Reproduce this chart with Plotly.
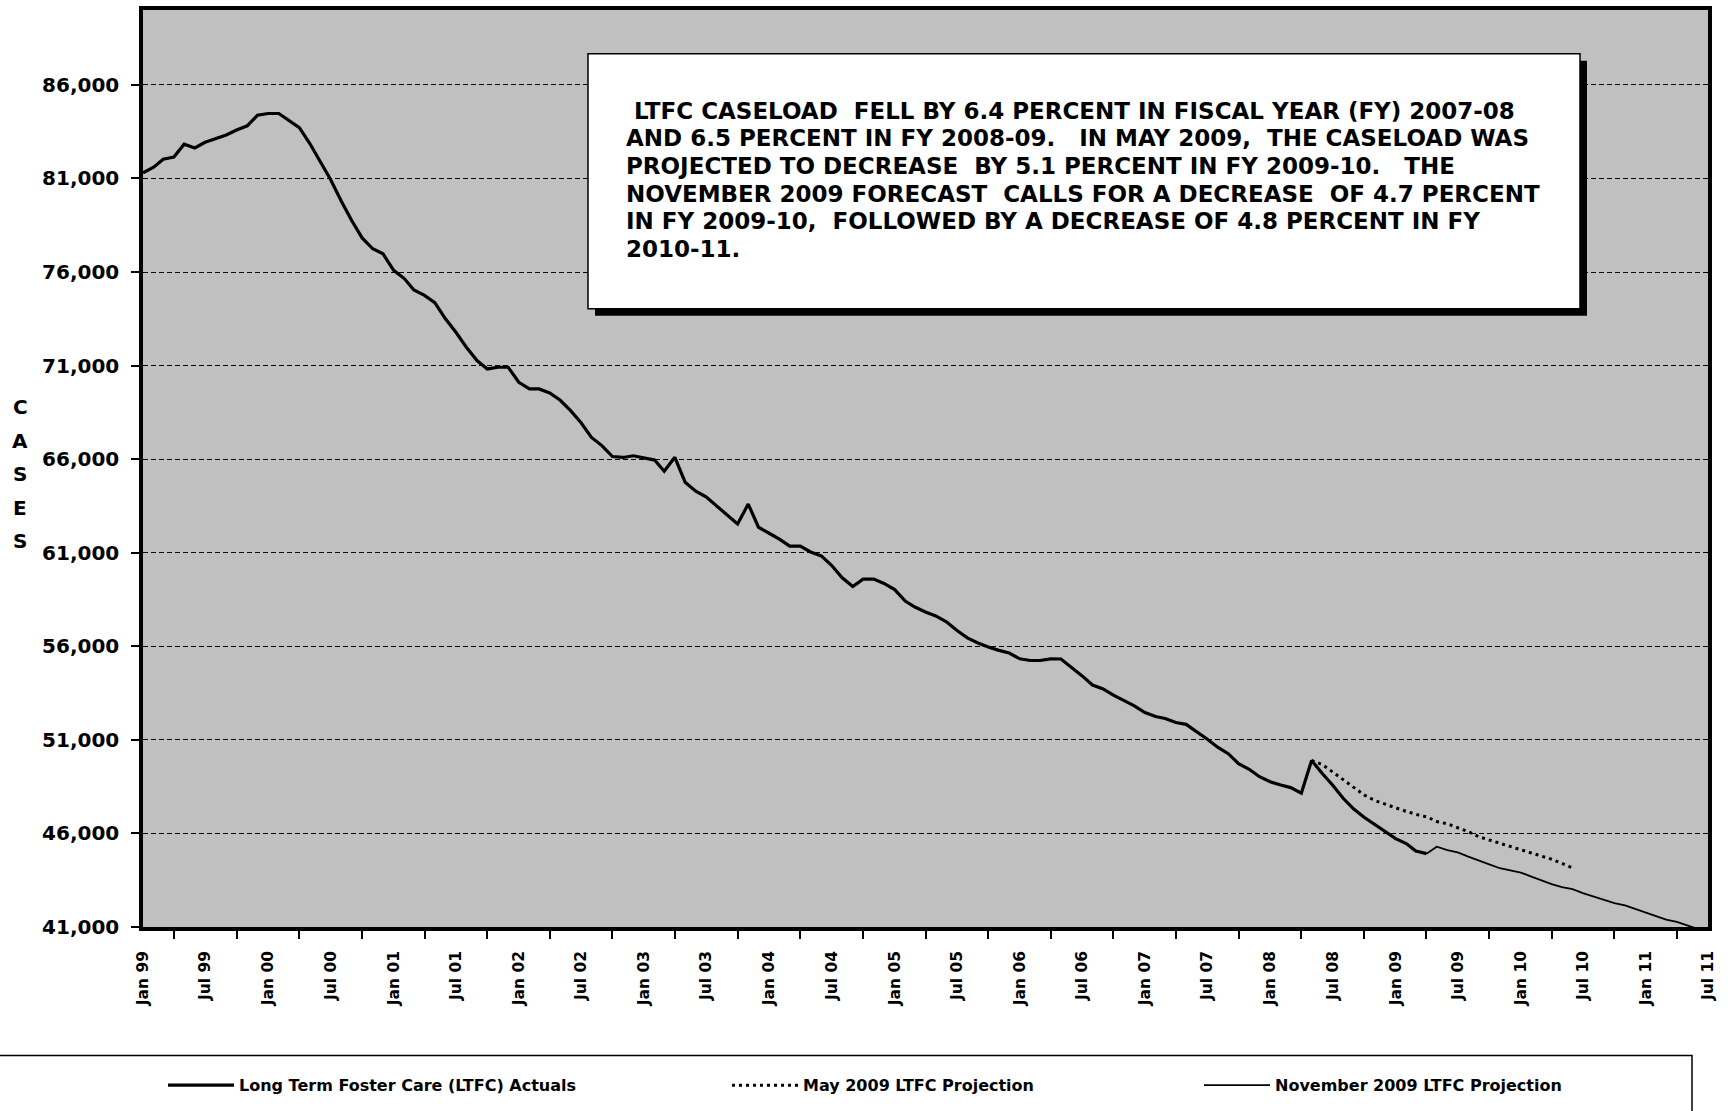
import pandas as pd
import plotly.graph_objects as go

FONT = "DejaVu Sans, Liberation Sans, Arial, sans-serif"

# monthly caseload, first point Jan 1999
START_MONTH = "1999-01"
actuals = [
    81300, 81600, 82030, 82140, 82830, 82630, 82930, 83110, 83320, 83590, 83810, 84380,
    84470, 84470, 84110, 83710, 82880, 81860, 80940, 79790, 78740, 77820, 77240, 76970,
    76090, 75650, 75040, 74750, 74360, 73500, 72790, 71980, 71270, 70820, 70910, 70910,
    70110, 69750, 69750, 69540, 69160, 68590, 67960, 67160, 66710, 66140, 66090, 66180,
    66070, 65950, 65350, 66100, 64770, 64290, 63990, 63500, 63060, 62530, 63600, 62360,
    62040, 61710, 61350, 61350, 61040, 60830, 60330, 59660, 59190, 59590, 59590, 59360,
    59030, 58420, 58100, 57830, 57620, 57310, 56860, 56450, 56180, 55960, 55780, 55640,
    55330, 55240, 55240, 55330, 55320, 54870, 54430, 53930, 53720, 53390, 53120, 52820,
    52460, 52250, 52140, 51930, 51830, 51440, 51050, 50610, 50260, 49730, 49430, 49030,
    48760, 48590, 48450, 48150, 49900, 49200, 48590, 47880, 47300, 46860, 46480, 46090,
    45720, 45460, 45060, 44920,
]
may_2009_projection = [
    49900, 49680, 49290, 48890, 48450, 48060, 47760, 47550, 47370, 47180, 47020, 46890,
    46640, 46510, 46320, 46090, 45820, 45650, 45470, 45310, 45140, 44970, 44790, 44620,
    44400, 44150,
]
november_2009_projection = [
    44920, 45290, 45110, 44990, 44760, 44530, 44350, 44140, 44010, 43910, 43690, 43480,
    43290, 43130, 43020, 42810, 42630, 42460, 42280, 42150, 41960, 41740, 41570, 41390,
    41270, 41090, 40900,
]
MAY_START = 112   # month offset of first May 2009 projection point
NOV_START = 123   # month offset of first November 2009 projection point

tick_labels = [
    "Jan 99", "Jul 99", "Jan 00", "Jul 00", "Jan 01", "Jul 01", "Jan 02", "Jul 02",
    "Jan 03", "Jul 03", "Jan 04", "Jul 04", "Jan 05", "Jul 05", "Jan 06", "Jul 06",
    "Jan 07", "Jul 07", "Jan 08", "Jul 08", "Jan 09", "Jul 09", "Jan 10", "Jul 10",
    "Jan 11", "Jul 11",
]
y_ticks = [41000, 46000, 51000, 56000, 61000, 66000, 71000, 76000, 81000, 86000]

note_lines = [
    "\u00a0LTFC CASELOAD\u00a0 FELL BY 6.4 PERCENT IN FISCAL YEAR (FY) 2007-08",
    "AND 6.5 PERCENT IN FY 2008-09.\u00a0\u00a0 IN MAY 2009,\u00a0 THE CASELOAD WAS",
    "PROJECTED TO DECREASE\u00a0 BY 5.1 PERCENT IN FY 2009-10.\u00a0\u00a0 THE",
    "NOVEMBER 2009 FORECAST\u00a0 CALLS FOR A DECREASE\u00a0 OF 4.7 PERCENT",
    "IN FY 2009-10,\u00a0 FOLLOWED BY A DECREASE OF 4.8 PERCENT IN FY",
    "2010-11.",
]

months = pd.period_range(START_MONTH, periods=151, freq="M").to_timestamp()
tick_months = months[::6]
minor_months = months[3::6]

W, H = 1728, 1111
L, R, T, B = 143, 20, 6, 184
PW, PH = W - L - R, H - T - B


def px(x):
    return (x - L) / PW


def py(y):
    return (H - B - y) / PH


fig = go.Figure()
fig.add_trace(go.Scatter(
    x=months[:len(actuals)], y=actuals, mode="lines",
    line=dict(color="black", width=3.2),
    name="Long Term Foster Care (LTFC) Actuals", legend="legend",
))
fig.add_trace(go.Scatter(
    x=months[MAY_START:MAY_START + len(may_2009_projection)], y=may_2009_projection,
    mode="lines", line=dict(color="black", width=3, dash="3px,4px"),
    name="May 2009 LTFC Projection", legend="legend2",
))
fig.add_trace(go.Scatter(
    x=months[NOV_START:NOV_START + len(november_2009_projection)], y=november_2009_projection,
    mode="lines", line=dict(color="black", width=1.8),
    name="November 2009 LTFC Projection", legend="legend3",
))

# note box with drop shadow
box = (588, 50, 1580, 306)
fig.add_shape(type="rect", xref="paper", yref="paper",
              x0=px(box[0] + 7), x1=px(box[2] + 7), y0=py(box[3] + 7), y1=py(box[1] + 7),
              fillcolor="black", line=dict(width=0))
fig.add_shape(type="rect", xref="paper", yref="paper",
              x0=px(box[0]), x1=px(box[2]), y0=py(box[3]), y1=py(box[1]),
              fillcolor="white", line=dict(color="black", width=1.5))
for i, line in enumerate(note_lines):
    fig.add_annotation(
        xref="paper", yref="paper", x=px(624), y=py(107 + 27.8 * i),
        xanchor="left", yanchor="middle", text=line, showarrow=False, align="left",
        font=dict(family=FONT, size=23, color="black", weight="bold"),
    )

# legend frame
fig.add_shape(type="rect", xref="paper", yref="paper",
              x0=px(-5), x1=px(1692), y0=py(1116), y1=py(1056),
              fillcolor="rgba(0,0,0,0)", line=dict(color="black", width=1.5))

# stacked axis title
for i, ch in enumerate("CASES"):
    fig.add_annotation(
        xref="paper", yref="paper", x=px(20), y=py(405 + 33.7 * i),
        text=ch, showarrow=False, xanchor="center", yanchor="middle",
        font=dict(family=FONT, size=20, color="black", weight="bold"),
    )

legend_style = dict(
    orientation="h", xanchor="left", y=py(1086), yanchor="middle",
    font=dict(family=FONT, size=16, color="black", weight="bold"),
    bgcolor="rgba(0,0,0,0)", itemwidth=66,
)

fig.update_layout(
    width=W, height=H,
    margin=dict(l=L, r=R, t=T, b=B, pad=0),
    paper_bgcolor="white", plot_bgcolor="#C0C0C0",
    font=dict(family=FONT, color="black"),
    showlegend=True,
    legend=dict(x=px(163), **legend_style),
    legend2=dict(x=px(727), **legend_style),
    legend3=dict(x=px(1199), **legend_style),
    xaxis=dict(
        type="date", range=[months[0], months[150]],
        tickmode="array", tickvals=tick_months, ticktext=tick_labels,
        tickangle=-90, ticks="", ticklabelstandoff=14,
        tickfont=dict(family=FONT, size=15.5, color="black", weight="bold"),
        minor=dict(tickmode="array", tickvals=minor_months, ticks="outside",
                   ticklen=8, tickwidth=1.5, tickcolor="black", showgrid=False),
        showgrid=False, zeroline=False,
        showline=True, linecolor="black", linewidth=3.5, mirror=True,
    ),
    yaxis=dict(
        range=[41000, 90000], tickmode="array", tickvals=y_ticks, tickformat=",",
        ticks="outside", ticklen=8, tickwidth=1.5, tickcolor="black",
        ticklabelstandoff=8,
        tickfont=dict(family=FONT, size=20, color="black", weight="bold"),
        showgrid=True, gridcolor="black", gridwidth=1, griddash="5px,3px",
        zeroline=False,
        showline=True, linecolor="black", linewidth=3.5, mirror=True,
    ),
)

fig.write_html(
    "out.html",
    config={"displayModeBar": False},
    post_script="document.body.style.margin='0';document.body.style.overflow='hidden';",
)
